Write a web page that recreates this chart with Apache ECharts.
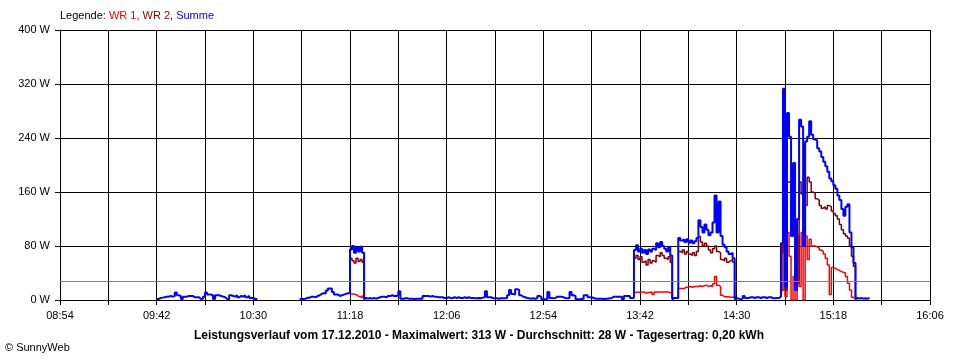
<!DOCTYPE html>
<html>
<head>
<meta charset="utf-8">
<script src="https://cdn.jsdelivr.net/npm/echarts@6/dist/echarts.min.js"></script>
<style>
html,body{margin:0;padding:0;background:#fff;}
#chart{width:960px;height:360px;}
</style>
</head>
<body>
<div id="chart"></div>
<script>
// ---- data (one value per minute, starting at startTime) ----
const startTime = '09:42';
const xTickLabels = ['08:54','09:42','10:30','11:18','12:06','12:54','13:42','14:30','15:18','16:06'];
const yTickValues = [0, 80, 160, 240, 320, 400];
const averageW = 28;
const titleText = 'Leistungsverlauf vom 17.12.2010 - Maximalwert: 313 W - Durchschnitt: 28 W - Tagesertrag: 0,20 kWh';

const summe = [
  1.5, 3, 3.5, 4, 5, 5, 6, 5, 6, 11,
  7, 6, 1.5, 5, 5, 6, 6, 6, 4, 4,
  4, 1.5, 2, 5, 11, 8, 8, 7, 1.5, 7,
  7, 6, 5, 4, 1.5, 1, 7, 6, 5, 7,
  4, 6, 5, 7, 4, 6, 3, 3, 1.5, 1.5,
  null, null, null, null, null, null, null, null, null, null,
  null, null, null, null, null, null, null, null, null, null,
  null, 1.5, 1.5, 2, 3.5, 3.5, 5, 5, 4, 6,
  7, 9, 10, 10, 14, 17, 17, 12, 8, 8,
  6, 7, 8, 9, 10, 10, 75, 80, 70, 78,
  72, 79, 70, 3, 2, 3, 2, 3, 2, 3,
  4, 5, 5, 4, 6, 6, 7, 6, 6, 7,
  13, 2, 2, 3, 2, 2, 2, 1.5, 2, 2,
  2, 2, 6, 6, 6, 5, 6, 5, 5, 4,
  4, 4, 3, 3, 4, 3, 3, 4, 3, 4,
  3, 3, 4, 3, 4, 3, 3, 2.5, 2.5, 3,
  2.5, 3.5, 4, 13, 4, 4, 3, 2.5, 2.5, 2,
  2.5, 2.5, 2.5, 3, 7, 15, 9, 8, 16, 15,
  7, 5, 4, 3, 2.5, 2, 2.5, 2, 2.5, 6,
  5, 1, 1, 1.5, 12, 3, 2.5, 3, 5, 5,
  5, 4, 3, 2.5, 3, 12, 7, 6, 1, 1,
  1.5, 2, 7, 7, 4, 4, 3, 2, 2, 2,
  2, 1.5, 2, 2, 2.5, 3, 5, 5, 5, 5,
  5, 1, 6, 6, 6, 3, 3, 74, 81, 72,
  76, 70, 74, 68, 75, 72, 76, 74, 84, 78,
  86, 80, 76, 72, 78, 66, 3, 3, 3, 92,
  88, 90, 86, 90, 85, 88, 84, 87, 92, 118,
  108, 100, 112, 104, 96, 100, 115, 155, 100, 146,
  95, 82, 78, 72, 68, 70, 62, 3, 2, 1,
  2, 6, 3, 3, 4, 4, 3, 4, 4, 3,
  4, 4, 3, 4, 4, 3, 2.5, 3, 3, 5,
  84, 313, 20, 277, 242, 95, 203, 15, 120, 267,
  257, 80, 235, 242, 265, 245, 238, 236, 225, 220,
  212, 205, 198, 190, 180, 176, 170, 165, 155, 148,
  135, 125, 138, 142, 100, 78, 55, 3, 2, 3,
  2, 2.5, 2, 3, 2
];

const wr1 = [
  null, null, null, null, null, null, null, null, null, null,
  null, null, null, null, null, null, null, null, null, null,
  null, null, null, null, null, null, null, null, null, null,
  null, null, null, null, null, null, null, null, null, null,
  null, null, null, null, null, null, null, null, null, null,
  null, null, null, null, null, null, null, null, null, null,
  null, null, null, null, null, null, null, null, null, null,
  null, null, null, null, null, null, null, null, null, null,
  null, null, null, null, null, null, null, null, null, null,
  null, null, null, null, null, null, 9, 9, 8, 6,
  5, 3, 6, 3, null, null, null, null, null, null,
  null, null, null, null, null, null, null, null, null, null,
  null, null, null, null, null, null, null, null, null, null,
  null, null, null, null, null, null, null, null, null, null,
  null, null, null, null, null, null, null, null, null, null,
  null, null, null, null, null, null, null, null, null, null,
  null, null, null, null, null, null, null, null, null, null,
  null, null, null, null, null, null, null, null, null, null,
  null, null, null, null, null, null, null, null, null, null,
  null, null, null, null, null, null, null, null, null, null,
  null, null, null, null, null, null, null, null, null, null,
  null, null, null, null, null, null, null, null, null, null,
  null, null, null, null, null, null, null, null, null, null,
  null, null, null, null, null, null, null, 11, 12, 11,
  12, 12, 10, 11, 11, 12, 8, 12, 12, 12,
  12, 12, 12, 12, 11, 10, 3, 3, 3, 17,
  17, 17, 19, 19, 20, 19, 20, 20, 20, 21,
  20, 21, 22, 20, 21, 20, 24, 35, 22, 20,
  7, 5, 5, 5, 4, 4, 5, 3, null, null,
  null, null, null, null, null, null, null, null, null, null,
  null, null, null, null, null, null, null, null, null, null,
  70, 95, 5, 100, 65, 0, 35, 0, 95, 20,
  100, 0, 95, 60, 90, 80, 80, 79, 77, 74,
  72, 68, 62, 52, 8, 48, 47, 45, 44, 42,
  41, 40, 35, 25, 15, 4, 2, 3, null, null,
  null, null, null, null, null
];

const wr2 = [
  null, null, null, null, null, null, null, null, null, null,
  null, null, null, null, null, null, null, null, null, null,
  null, null, null, null, null, null, null, null, null, null,
  null, null, null, null, null, null, null, null, null, null,
  null, null, null, null, null, null, null, null, null, null,
  null, null, null, null, null, null, null, null, null, null,
  null, null, null, null, null, null, null, null, null, null,
  null, null, null, null, null, null, null, null, null, null,
  null, null, null, null, null, null, null, null, null, null,
  null, null, null, null, null, null, 62, 58, 55, 62,
  57, 60, 56, 0, null, null, null, null, null, null,
  null, null, null, null, null, null, null, null, null, null,
  null, null, null, null, null, null, null, null, null, null,
  null, null, null, null, null, null, null, null, null, null,
  null, null, null, null, null, null, null, null, null, null,
  null, null, null, null, null, null, null, null, null, null,
  null, null, null, null, null, null, null, null, null, null,
  null, null, null, null, null, null, null, null, null, null,
  null, null, null, null, null, null, null, null, null, null,
  null, null, null, null, null, null, null, null, null, null,
  null, null, null, null, null, null, null, null, null, null,
  null, null, null, null, null, null, null, null, null, null,
  null, null, null, null, null, null, null, null, null, null,
  null, null, null, null, null, null, null, 62, 66, 60,
  64, 56, 58, 52, 60, 55, 58, 56, 66, 64,
  70, 66, 62, 60, 64, 56, 0, null, null, 72,
  70, 74, 68, 72, 68, 66, 70, 66, 72, 94,
  86, 80, 84, 80, 74, 70, 76, 80, 72, 70,
  60, 58, 62, 56, 58, 60, 56, 0, null, null,
  null, null, null, null, null, null, null, null, null, null,
  null, null, null, null, null, null, null, null, null, null,
  14, 160, 15, 175, 175, 95, 168, 15, 25, 175,
  157, 80, 140, 182, 175, 160, 158, 150, 148, 140,
  136, 138, 135, 140, 138, 132, 128, 125, 120, 112,
  104, 98, 95, 92, 80, 65, 50, 0, null, null,
  null, null, null, null, null
];

// ---- helpers ----
function toMin(s){ const p = s.split(':'); return (+p[0])*60 + (+p[1]); }
function fmt(m){ const h = Math.floor(m/60), mm = m%60; return (h<10?'0':'')+h+':'+(mm<10?'0':'')+mm; }
const t0 = toMin(startTime);
function pairs(arr){ return arr.map((v,i)=>[t0+i, v]); }
const xMin = toMin(xTickLabels[0]);
const xMax = toMin(xTickLabels[xTickLabels.length-1]);
const labelSet = new Set(xTickLabels);

const FONT = 'Liberation Sans, Arial, sans-serif';
const chart = echarts.init(document.getElementById('chart'), null, {renderer:'canvas'});
chart.setOption({
  animation: false,
  backgroundColor: '#ffffff',
  grid: {left: 60, right: 30, top: 30, bottom: 60, containLabel: false},
  xAxis: {
    type: 'value', min: xMin, max: xMax, interval: 24,
    axisLine: {show: true, lineStyle: {color: '#000', width: 1}},
    axisTick: {show: true, length: 5, lineStyle: {color: '#000', width: 1}},
    splitLine: {show: true, lineStyle: {color: '#000', width: 1}},
    axisLabel: {
      margin: 10, color: '#000', fontFamily: FONT, fontSize: 11,
      formatter: v => labelSet.has(fmt(v)) ? fmt(v) : ''
    }
  },
  yAxis: {
    type: 'value', min: yTickValues[0], max: yTickValues[yTickValues.length-1], interval: 80,
    axisLine: {show: true, lineStyle: {color: '#000', width: 1}},
    axisTick: {show: true, length: 5, lineStyle: {color: '#000', width: 1}},
    splitLine: {show: true, lineStyle: {color: '#000', width: 1}},
    axisLabel: {margin: 10, color: '#000', fontFamily: FONT, fontSize: 11, formatter: '{value} W'}
  },
  series: [
    {
      name: 'avg', type: 'line', data: [], z: 1,
      markLine: {
        silent: true, symbol: 'none', label: {show: false},
        lineStyle: {color: '#808080', width: 1, type: 'solid'},
        data: [{yAxis: averageW}]
      }
    },
    {name: 'WR 1', type: 'line', step: 'end', showSymbol: false, symbol: 'none', z: 2,
     lineStyle: {color: '#ff0000', width: 1.5}, itemStyle: {color: '#ff0000'}, data: pairs(wr1)},
    {name: 'WR 2', type: 'line', step: 'end', showSymbol: false, symbol: 'none', z: 3,
     lineStyle: {color: '#800000', width: 1.5}, itemStyle: {color: '#800000'}, data: pairs(wr2)},
    {name: 'Summe', type: 'line', step: 'end', showSymbol: false, symbol: 'none', z: 4,
     lineStyle: {color: '#0000ff', width: 2}, itemStyle: {color: '#0000ff'}, data: pairs(summe)}
  ],
  graphic: [
    {type: 'text', left: 60, top: 10, style: {
      text: '{k|Legende: }{a|WR 1, }{b|WR 2, }{c|Summe}',
      font: '11px ' + FONT,
      rich: {
        k: {fill: '#000', fontSize: 11, fontFamily: FONT},
        a: {fill: '#ff0000', fontSize: 11, fontFamily: FONT},
        b: {fill: '#800000', fontSize: 11, fontFamily: FONT},
        c: {fill: '#0000ff', fontSize: 11, fontFamily: FONT}
      }
    }},
    {type: 'text', x: 479, y: 336, style: {
      text: titleText, fill: '#000', font: 'bold 12px ' + FONT,
      textAlign: 'center', textVerticalAlign: 'middle'
    }},
    {type: 'text', x: 5, y: 348, style: {
      text: '\u00A9 SunnyWeb', fill: '#000', font: '11px ' + FONT,
      textAlign: 'left', textVerticalAlign: 'middle'
    }}
  ]
});
</script>
</body>
</html>
